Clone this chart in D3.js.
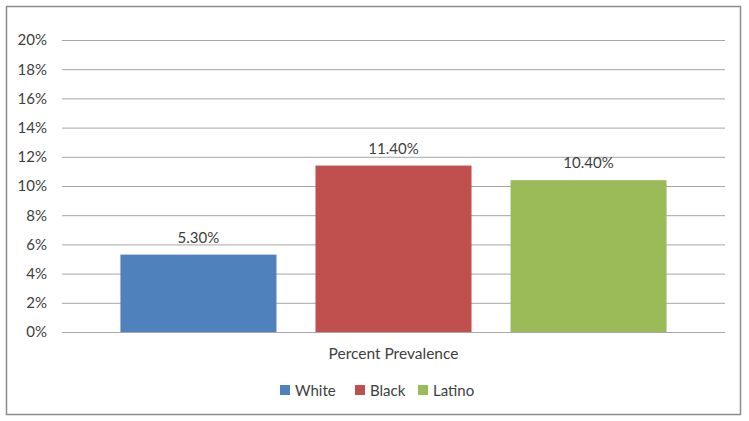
<!DOCTYPE html>
<html>
<head>
<meta charset="utf-8">
<script src="https://cdn.jsdelivr.net/npm/d3@7"></script>
<style>
  body { margin: 0; background: #fff; }
  svg text { font-family: Lato, "Open Sans", sans-serif; fill: #404040; }
  .grid line { stroke: #a6a6a6; stroke-width: 1; }
  .grid .domain { display: none; }
</style>
</head>
<body>
<div id="chart"></div>
<script>
// Chart data
const category = ['Percent Prevalence'];
const series = ['White', 'Black', 'Latino'];
const values = [5.3, 11.4, 10.4];
const colors = ['#4f81bd', '#c0504d', '#9bbb59'];
const yTicks = [0, 2, 4, 6, 8, 10, 12, 14, 16, 18, 20];

const width = 749, height = 421;
const margin = { top: 40, right: 24, bottom: 89, left: 62 };
const innerW = width - margin.left - margin.right;
const innerH = height - margin.top - margin.bottom;

const svg = d3.select('#chart').append('svg')
  .attr('width', width)
  .attr('height', height);

// Outer border of the chart
svg.append('rect')
  .attr('x', 6.5).attr('y', 6.5)
  .attr('width', 734).attr('height', 408)
  .attr('fill', '#fff')
  .attr('stroke', '#8c8c8c')
  .attr('stroke-width', 1.5);

const g = svg.append('g')
  .attr('transform', `translate(${margin.left},${margin.top})`);

const y = d3.scaleLinear().domain([0, 20]).range([innerH, 0]);

const x0 = d3.scaleBand()
  .domain(category)
  .range([0, innerW])
  .paddingInner(0)
  .paddingOuter(0.107);

const x1 = d3.scaleBand()
  .domain(series)
  .range([0, x0.bandwidth()])
  .paddingInner(0.2)
  .paddingOuter(0);

// Gridlines + tick labels
const yAxis = d3.axisLeft(y)
  .tickValues(yTicks)
  .tickSize(-innerW)
  .tickPadding(15)
  .tickFormat(d => d + '%');

const grid = g.append('g').attr('class', 'grid').call(yAxis);
grid.selectAll('line').attr('x1', 0);
grid.selectAll('text')
  .style('font-size', '15px');

// Bars
const cat = g.append('g')
  .attr('transform', `translate(${x0(category[0])},0)`);

cat.selectAll('.bar')
  .data(series)
  .enter()
  .append('rect')
  .attr('class', 'bar')
  .attr('x', d => x1(d))
  .attr('width', x1.bandwidth())
  .attr('y', (d, i) => y(values[i]))
  .attr('height', (d, i) => innerH - y(values[i]))
  .attr('fill', (d, i) => colors[i]);

// Value labels
cat.selectAll('.val')
  .data(series)
  .enter()
  .append('text')
  .attr('class', 'val')
  .attr('x', d => x1(d) + x1.bandwidth() / 2)
  .attr('y', (d, i) => y(values[i]) - 12)
  .attr('text-anchor', 'middle')
  .style('font-size', '15px')
  .text((d, i) => values[i].toFixed(2) + '%');

// Category label
g.append('text')
  .attr('x', x0(category[0]) + x0.bandwidth() / 2)
  .attr('y', innerH + 27)
  .attr('text-anchor', 'middle')
  .style('font-size', '15.5px')
  .text(category[0]);

// Legend
const legendX = [280, 355, 418];
const legend = svg.append('g');
const item = legend.selectAll('.leg')
  .data(series)
  .enter()
  .append('g')
  .attr('class', 'leg')
  .attr('transform', (d, i) => `translate(${legendX[i]},385)`);

item.append('rect')
  .attr('width', 10).attr('height', 10)
  .attr('fill', (d, i) => colors[i]);

item.append('text')
  .attr('x', 15)
  .attr('y', 10.5)
  .style('font-size', '15px')
  .text(d => d);
</script>
</body>
</html>
